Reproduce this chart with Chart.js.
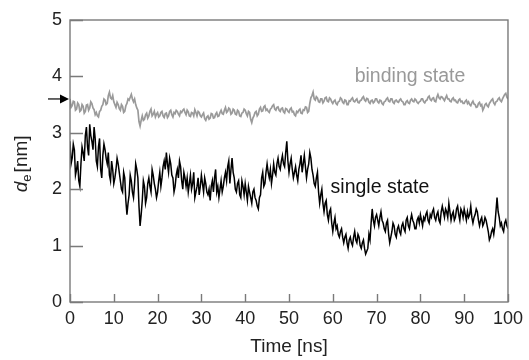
<!DOCTYPE html>
<html>
<head>
<meta charset="utf-8">
<script src="https://cdn.jsdelivr.net/npm/chart.js@4.4.1/dist/chart.umd.min.js"></script>
<style>
  html, body { margin: 0; padding: 0; background: #fff; }
  #wrap { width: 529px; height: 360px; }
</style>
</head>
<body>
<div id="wrap"><canvas id="chart" width="529" height="360"></canvas></div>
<script>
// sampling interval of both traces (ns)
const TIME_STEP = 0.25;
const X_TICKS = [0, 10, 20, 30, 40, 50, 60, 70, 80, 90, 100];
const Y_TICKS = [0, 1, 2, 3, 4, 5];
const ARROW_VALUE = 3.6;

// d_e of the single state (black trace), one value every 0.25 ns
const singleState = [
  2.85, 2.45, 2.55, 2.8, 2.7, 2.25, 2.35, 2.5, 2.15, 2.05, 2.45, 2.75, 2.65, 2.5, 2.95, 3.1, 2.75, 2.6, 3.15, 2.95,
  2.85, 2.7, 3.1, 2.9, 2.5, 2.4, 2.75, 2.9, 2.35, 2.2, 2.6, 2.8, 2.7, 2.55, 2.45, 2.65, 2.25, 2.15, 2.5, 2.35,
  2.1, 2.2, 2.35, 2.55, 2.45, 2.3, 2.15, 2.0, 1.95, 2.3, 2.2, 1.8, 1.55, 1.75, 1.9, 2.25, 2.15, 1.95, 1.85, 2.1,
  2.45, 2.35, 2.2, 1.7, 1.35, 1.55, 1.8, 2.15, 2.05, 1.75, 1.85, 2.1, 2.2, 2.05, 1.95, 2.35, 2.25, 2.1, 2.0, 1.85,
  1.95, 2.15, 2.3, 2.05, 2.2, 2.4, 2.5, 2.35, 2.65, 2.45, 2.3, 2.55, 2.45, 2.25, 2.2, 1.95, 2.05, 2.25, 2.35, 2.2,
  2.5, 2.4, 2.15, 2.0, 2.3, 2.2, 2.05, 2.2, 1.95, 2.1, 2.25, 2.0, 2.1, 2.3, 1.85, 1.95, 2.05, 2.2, 1.9, 2.05,
  2.25, 2.1, 1.95, 2.2, 2.1, 1.95, 1.9, 2.0, 1.8, 2.05, 2.15, 1.95, 2.2, 2.35, 1.95, 2.05, 1.85, 2.0, 2.15, 1.95,
  2.05, 2.2, 2.3, 2.15, 2.4, 2.5, 2.1, 2.35, 2.55, 2.3, 2.2, 2.0, 1.95, 2.1, 2.15, 1.9, 1.85, 2.15, 2.05, 1.9,
  2.1, 1.95, 1.8, 2.05, 1.95, 1.85, 1.75, 1.95, 2.0, 1.85, 1.8, 1.7, 1.65, 1.85, 1.9, 2.2, 2.3, 2.05, 2.1, 2.3,
  2.45, 2.3, 2.2, 2.35, 2.1, 2.25, 2.45, 2.3, 2.25, 2.45, 2.55, 2.4, 2.35, 2.5, 2.6, 2.45, 2.4, 2.65, 2.85, 2.5,
  2.3, 2.45, 2.55, 2.35, 2.2, 2.3, 2.4, 2.25, 2.15, 2.35, 2.45, 2.6, 2.3, 2.45, 2.6, 2.4, 2.2, 2.35, 2.45, 2.65,
  2.55, 2.35, 2.25, 2.1, 2.05, 2.2, 2.3, 1.95, 1.75, 1.9, 2.0, 1.75, 1.6, 1.75, 1.8, 1.55, 1.45, 1.6, 1.65, 1.4,
  1.25, 1.4, 1.5, 1.3, 1.35, 1.2, 1.15, 1.25, 1.3, 1.15, 1.05, 1.15, 1.2, 1.05, 0.95, 1.1, 1.15, 1.05, 1.0, 1.15,
  1.25, 1.1, 1.05, 1.2, 1.15, 1.0, 0.95, 1.05, 1.1, 0.95, 0.85, 0.9, 0.95, 1.2, 1.1, 1.4, 1.65, 1.45, 1.35, 1.5,
  1.55, 1.45, 1.35, 1.5, 1.6, 1.45, 1.4, 1.3, 1.25, 1.4, 1.45, 1.2, 1.05, 1.15, 1.25, 1.4, 1.35, 1.2, 1.15, 1.3,
  1.35, 1.25, 1.2, 1.35, 1.4, 1.3, 1.25, 1.45, 1.5, 1.35, 1.3, 1.45, 1.55, 1.45, 1.4, 1.3, 1.3, 1.45, 1.5, 1.4,
  1.55, 1.45, 1.35, 1.5, 1.45, 1.55, 1.6, 1.45, 1.4, 1.55, 1.5, 1.6, 1.65, 1.5, 1.45, 1.55, 1.6, 1.45, 1.4, 1.6,
  1.7, 1.6, 1.5, 1.65, 1.6, 1.5, 1.75, 1.6, 1.45, 1.55, 1.6, 1.45, 1.5, 1.65, 1.7, 1.55, 1.45, 1.65, 1.6, 1.5,
  1.65, 1.55, 1.45, 1.6, 1.5, 1.55, 1.7, 1.5, 1.4, 1.5, 1.55, 1.65, 1.6, 1.45, 1.35, 1.45, 1.5, 1.35, 1.4, 1.5,
  1.45, 1.35, 1.25, 1.1, 1.15, 1.25, 1.3, 1.2, 1.35, 1.6, 1.85, 1.6, 1.5, 1.35, 1.4, 1.3, 1.25, 1.4, 1.45, 1.35,
  1.3
];

// d_e of the binding state (grey trace), one value every 0.25 ns
const bindingState = [
  3.6, 3.45, 3.48, 3.56, 3.55, 3.4, 3.42, 3.53, 3.5, 3.38, 3.4, 3.5, 3.47, 3.35, 3.38, 3.49, 3.5, 3.4, 3.44, 3.55,
  3.52, 3.44, 3.41, 3.32, 3.36, 3.3, 3.28, 3.38, 3.4, 3.47, 3.5, 3.6, 3.58, 3.5, 3.52, 3.66, 3.72, 3.62, 3.6, 3.66,
  3.55, 3.5, 3.45, 3.54, 3.5, 3.43, 3.4, 3.5, 3.47, 3.36, 3.38, 3.48, 3.52, 3.6, 3.58, 3.63, 3.68, 3.6, 3.55, 3.6,
  3.5, 3.44, 3.4, 3.2, 3.12, 3.22, 3.3, 3.22, 3.24, 3.32, 3.35, 3.26, 3.3, 3.38, 3.42, 3.3, 3.33, 3.38, 3.28, 3.33,
  3.36, 3.28, 3.3, 3.36, 3.38, 3.3, 3.27, 3.34, 3.35, 3.27, 3.3, 3.38, 3.4, 3.32, 3.28, 3.36, 3.34, 3.4, 3.38, 3.33,
  3.3, 3.38, 3.36, 3.4, 3.42, 3.36, 3.32, 3.4, 3.37, 3.3, 3.29, 3.36, 3.35, 3.3, 3.41, 3.36, 3.3, 3.38, 3.36, 3.3,
  3.28, 3.32, 3.35, 3.25, 3.22, 3.28, 3.3, 3.24, 3.26, 3.34, 3.33, 3.26, 3.27, 3.33, 3.36, 3.29, 3.3, 3.36, 3.4, 3.34,
  3.33, 3.4, 3.45, 3.36, 3.38, 3.44, 3.42, 3.33, 3.35, 3.42, 3.4, 3.33, 3.32, 3.4, 3.38, 3.3, 3.29, 3.35, 3.36, 3.42,
  3.4, 3.34, 3.3, 3.38, 3.36, 3.24, 3.18, 3.26, 3.3, 3.36, 3.38, 3.3, 3.33, 3.42, 3.45, 3.38, 3.39, 3.46, 3.48, 3.4,
  3.42, 3.38, 3.36, 3.42, 3.44, 3.48, 3.5, 3.42, 3.4, 3.45, 3.46, 3.4, 3.38, 3.43, 3.44, 3.37, 3.35, 3.43, 3.42, 3.38,
  3.36, 3.42, 3.44, 3.37, 3.38, 3.32, 3.3, 3.38, 3.36, 3.4, 3.42, 3.35, 3.34, 3.41, 3.4, 3.46, 3.45, 3.36, 3.38, 3.52,
  3.62, 3.66, 3.72, 3.6, 3.58, 3.64, 3.62, 3.55, 3.54, 3.6, 3.6, 3.53, 3.56, 3.62, 3.63, 3.56, 3.55, 3.62, 3.6, 3.55,
  3.52, 3.56, 3.58, 3.52, 3.5, 3.55, 3.56, 3.62, 3.6, 3.54, 3.52, 3.58, 3.57, 3.5, 3.5, 3.57, 3.56, 3.6, 3.62, 3.56,
  3.55, 3.58, 3.6, 3.54, 3.53, 3.57, 3.58, 3.62, 3.64, 3.58, 3.56, 3.61, 3.6, 3.54, 3.52, 3.57, 3.58, 3.53, 3.55, 3.6,
  3.6, 3.55, 3.53, 3.58, 3.57, 3.52, 3.5, 3.55, 3.56, 3.6, 3.62, 3.56, 3.55, 3.6, 3.6, 3.54, 3.52, 3.57, 3.58, 3.55,
  3.54, 3.58, 3.6, 3.56, 3.55, 3.5, 3.5, 3.55, 3.57, 3.53, 3.52, 3.58, 3.6, 3.56, 3.55, 3.6, 3.58, 3.54, 3.52, 3.55,
  3.56, 3.6, 3.6, 3.55, 3.53, 3.57, 3.58, 3.63, 3.65, 3.59, 3.57, 3.61, 3.62, 3.56, 3.55, 3.63, 3.68, 3.62, 3.6, 3.64,
  3.63, 3.6, 3.57, 3.62, 3.66, 3.6, 3.6, 3.56, 3.55, 3.6, 3.62, 3.57, 3.58, 3.54, 3.53, 3.58, 3.6, 3.55, 3.56, 3.52,
  3.52, 3.56, 3.58, 3.52, 3.55, 3.5, 3.48, 3.53, 3.56, 3.51, 3.5, 3.45, 3.46, 3.52, 3.54, 3.48, 3.5, 3.4, 3.44, 3.5,
  3.52, 3.48, 3.46, 3.52, 3.55, 3.58, 3.6, 3.53, 3.5, 3.55, 3.56, 3.6, 3.62, 3.57, 3.55, 3.6, 3.64, 3.68, 3.7, 3.63,
  3.6
];

const AXIS_COLOR = '#7a7a7a';
const FONT = '"Liberation Sans", Arial, sans-serif';

const toPoints = values => values.map((v, i) => ({ x: i * TIME_STEP, y: v }));

// frame, inward ticks, arrow marker, labels
const decorations = {
  id: 'decorations',
  afterDraw(chart) {
    const { ctx, chartArea: a, scales: { x, y } } = chart;
    ctx.save();

    ctx.strokeStyle = AXIS_COLOR;
    ctx.lineWidth = 1.4;
    ctx.strokeRect(a.left, a.top, a.right - a.left, a.bottom - a.top);

    ctx.beginPath();
    Y_TICKS.forEach(v => {
      const py = Math.round(y.getPixelForValue(v)) + 0.5;
      ctx.moveTo(a.left, py);
      ctx.lineTo(a.left + 13, py);
    });
    X_TICKS.forEach(v => {
      const px = Math.round(x.getPixelForValue(v)) + 0.5;
      ctx.moveTo(px, a.bottom);
      ctx.lineTo(px, a.bottom - 8);
    });
    ctx.stroke();

    // arrow pointing at the axis
    const ay = y.getPixelForValue(ARROW_VALUE);
    ctx.strokeStyle = '#000';
    ctx.fillStyle = '#000';
    ctx.lineWidth = 1.2;
    ctx.beginPath();
    ctx.moveTo(a.left - 22, ay);
    ctx.lineTo(a.left - 8, ay);
    ctx.stroke();
    ctx.beginPath();
    ctx.moveTo(a.left - 1, ay);
    ctx.lineTo(a.left - 10, ay - 4.5);
    ctx.lineTo(a.left - 10, ay + 4.5);
    ctx.closePath();
    ctx.fill();

    // series labels
    ctx.textBaseline = 'middle';
    ctx.textAlign = 'left';
    ctx.font = '19.5px ' + FONT;
    ctx.fillStyle = '#999';
    ctx.fillText('binding state', x.getPixelForValue(65), y.getPixelForValue(4.0));
    ctx.fillStyle = '#111';
    ctx.fillText('single state', x.getPixelForValue(59.5), y.getPixelForValue(2.03));

    // x title
    ctx.textAlign = 'center';
    ctx.font = '19px ' + FONT;
    ctx.fillStyle = '#222';
    ctx.fillText('Time [ns]', (a.left + a.right) / 2, 347);

    // y title with italic d and subscript e
    ctx.translate(22, y.getPixelForValue(2.45));
    ctx.rotate(-Math.PI / 2);
    ctx.textAlign = 'left';
    const dFont = 'italic 19px ' + FONT;
    const eFont = '13px ' + FONT;
    const rFont = '19px ' + FONT;
    ctx.font = dFont; const wd = ctx.measureText('d').width;
    ctx.font = eFont; const we = ctx.measureText('e').width;
    ctx.font = rFont; const wr = ctx.measureText('[nm]').width;
    let cx = -(wd + we + 2 + wr) / 2;
    ctx.font = dFont; ctx.fillText('d', cx, 0); cx += wd;
    ctx.font = eFont; ctx.fillText('e', cx, 5); cx += we + 2;
    ctx.font = rFont; ctx.fillText('[nm]', cx, 0);

    ctx.restore();
  }
};

new Chart(document.getElementById('chart'), {
  type: 'line',
  data: {
    datasets: [
      {
        label: 'binding state',
        data: toPoints(bindingState),
        borderColor: '#9a9a9a',
        borderWidth: 1.7,
        pointRadius: 0,
        tension: 0
      },
      {
        label: 'single state',
        data: toPoints(singleState),
        borderColor: '#000',
        borderWidth: 1.5,
        pointRadius: 0,
        tension: 0
      }
    ]
  },
  options: {
    responsive: false,
    devicePixelRatio: 1,
    animation: false,
    layout: { padding: { top: 20, right: 17, left: 0, bottom: 0 } },
    plugins: { legend: { display: false }, tooltip: { enabled: false } },
    scales: {
      x: {
        type: 'linear',
        min: 0,
        max: 100,
        afterFit: s => { s.height = 58; },
        afterBuildTicks: s => { s.ticks = X_TICKS.map(v => ({ value: v })); },
        grid: { display: false, drawTicks: false },
        border: { display: false },
        ticks: { color: '#222', padding: 6, maxRotation: 0, font: { size: 18, family: FONT } }
      },
      y: {
        min: 0,
        max: 5,
        afterFit: s => { s.width = 70; },
        afterBuildTicks: s => { s.ticks = Y_TICKS.map(v => ({ value: v })); },
        grid: { display: false, drawTicks: false },
        border: { display: false },
        ticks: { color: '#222', padding: 8, font: { size: 18, family: FONT } }
      }
    }
  },
  plugins: [decorations]
});
</script>
</body>
</html>
